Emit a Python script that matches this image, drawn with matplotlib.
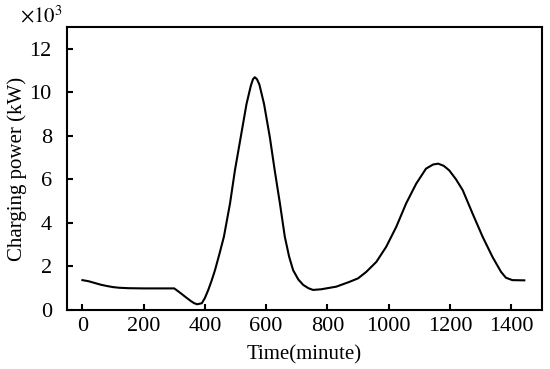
import matplotlib
matplotlib.use("Agg")
import matplotlib.pyplot as plt
from matplotlib.ticker import FuncFormatter, MultipleLocator

plt.rcParams["font.family"] = ["Liberation Serif", "DejaVu Serif"]
plt.rcParams["mathtext.fontset"] = "stix"

# time of day (minute) and charging power (kW)
time_min = [0, 20, 40, 60, 80, 100, 120, 150, 200, 250, 300,
            320, 340, 355, 365, 375, 390, 400, 411, 422, 433, 447,
            462, 482, 498, 517, 536, 550, 557, 563, 570, 578, 593,
            612, 628, 645, 661, 675, 688, 705, 721, 738, 753, 780,
            800, 829, 870, 900, 927, 960, 992, 1025, 1057, 1090, 1122,
            1145, 1162, 1180, 1198, 1220, 1242, 1274, 1307, 1339, 1367,
            1383, 1404, 1443]
power_kw = [1370, 1320, 1240, 1160, 1100, 1050, 1020, 1000, 990, 990, 990,
            780, 560, 400, 310, 260, 310, 550, 920, 1350, 1830, 2550,
            3360, 4890, 6410, 7940, 9470, 10300, 10600, 10690, 10600, 10350, 9470,
            7940, 6410, 4890, 3360, 2450, 1830, 1400, 1150, 1000, 920, 950,
            1000, 1070, 1280, 1450, 1750, 2210, 2900, 3820, 4890, 5800, 6490,
            6680, 6720, 6620, 6410, 6000, 5500, 4430, 3360, 2440, 1750,
            1480, 1370, 1360]

x_ticks = [0, 200, 400, 600, 800, 1000, 1200, 1400]

fig = plt.figure(figsize=(5.5, 3.69), dpi=100)
ax = fig.add_axes([0.122, 0.160, 0.863, 0.767])

ax.plot(time_min, power_kw, color="black", lw=1.5)

ax.set_xlim(-50, 1500)
ax.set_ylim(0, 13000)
ax.set_xticks(x_ticks)
ax.yaxis.set_major_locator(MultipleLocator(2000))
ax.yaxis.set_major_formatter(FuncFormatter(lambda v, p: f"{v / 1000:g}"))

for s in ax.spines.values():
    s.set_linewidth(1.5)
ax.tick_params(direction="in", length=4, width=1.5, labelsize=16,
               top=False, right=False)
ax.tick_params(axis="x", pad=5)
ax.tick_params(axis="y", pad=11)

ax.set_xlabel("Time(minute)", fontsize=15, labelpad=7)
ax.set_ylabel("Charging power (kW)", fontsize=15, labelpad=2)
fig.text(0.115, 0.940, r"$\times10^3$", fontsize=15, ha="right", va="baseline")

fig.savefig("out.png", dpi=100)
